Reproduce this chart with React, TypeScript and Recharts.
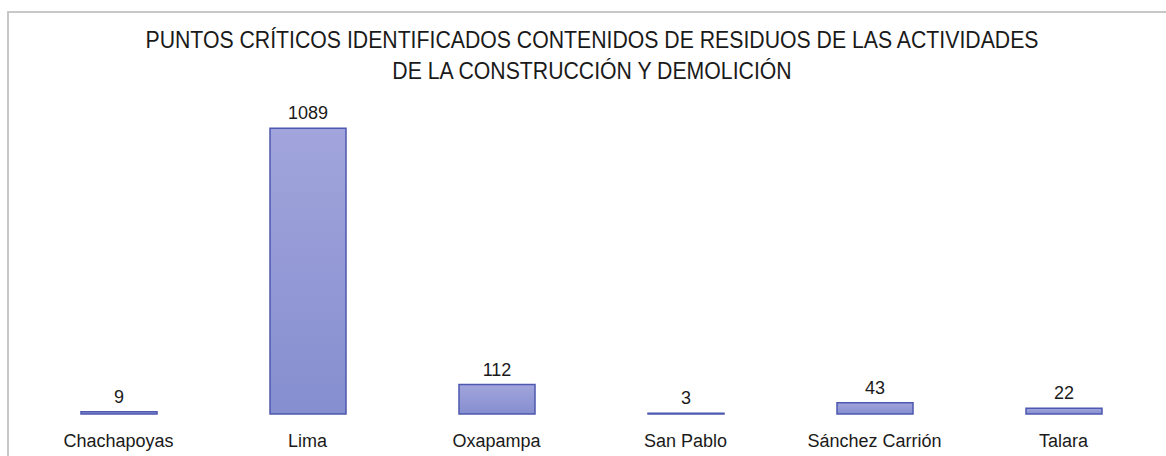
import React from "react";
import { BarChart, Bar, XAxis, YAxis, LabelList } from "recharts";

const categories = ["Chachapoyas", "Lima", "Oxapampa", "San Pablo", "Sánchez Carrión", "Talara"];
const values = [9, 1089, 112, 3, 43, 22];
const titleLines = [
  "PUNTOS CRÍTICOS IDENTIFICADOS CONTENIDOS DE RESIDUOS DE LAS ACTIVIDADES",
  "DE LA CONSTRUCCIÓN Y DEMOLICIÓN",
];

const data = categories.map((name, i) => ({ name, value: values[i] }));
const FONT = "'Liberation Sans Narrow', 'Arial Narrow', 'Liberation Sans', Arial, sans-serif";

export default function App() {
  return (
    <div style={{ position: "absolute", left: 0, top: 0, width: 1166, height: 456, background: "#fff", overflow: "hidden" }}>
      <div style={{ position: "absolute", left: 7, top: 11, width: 1200, height: 500, borderTop: "2px solid #c8c8c8", borderLeft: "2px solid #c8c8c8" }} />
      <div style={{ position: "absolute", left: 0, top: 24, width: 1184, textAlign: "center", fontFamily: FONT, fontSize: 24, lineHeight: "31px", color: "#1a1a1a", transform: "scaleX(0.885)", transformOrigin: "592px 0" }}>
        {titleLines.map((t) => (
          <div key={t}>{t}</div>
        ))}
      </div>
      <div style={{ position: "absolute", left: 0, top: 0 }}>
        <BarChart width={1166} height={456} data={data} margin={{ top: 99, right: 8, bottom: 0, left: 24 }} barCategoryGap="30%">
          <defs>
            <linearGradient id="barGrad" x1="0" y1="0" x2="0" y2="1">
              <stop offset="0%" stopColor="#a2a5dc" />
              <stop offset="100%" stopColor="#858ecf" />
            </linearGradient>
          </defs>
          <XAxis dataKey="name" axisLine={false} tickLine={false} height={42} interval={0} tickMargin={14}
            tick={{ fill: "#1a1a1a", fontSize: 18, fontFamily: FONT }} />
          <YAxis hide domain={[0, 1200]} />
          <Bar dataKey="value" fill="url(#barGrad)" stroke="#4d58b0" strokeWidth={1.5} barSize={76} isAnimationActive={false}>
            <LabelList dataKey="value" position="top" offset={9} fill="#1a1a1a" fontSize={18} fontFamily={FONT} />
          </Bar>
        </BarChart>
      </div>
    </div>
  );
}
